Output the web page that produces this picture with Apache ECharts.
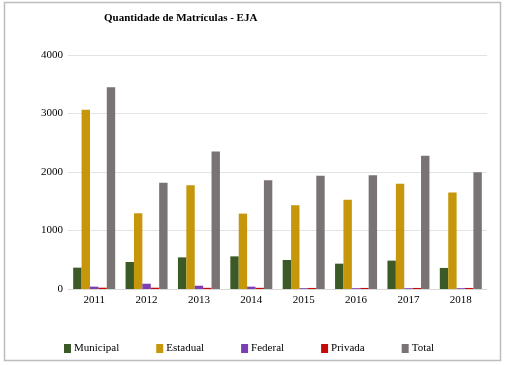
<!DOCTYPE html>
<html lang="pt" style="height: 100%">
<head>
<meta charset="utf-8">
<title>Quantidade de Matrículas - EJA</title>
</head>
<body style="height: 100%; margin: 0">
<div id="container" style="width: 506px; height: 365px"></div>

<script type="text/javascript" src="https://cdn.jsdelivr.net/npm/echarts@6/dist/echarts.min.js"></script>

<script type="text/javascript">
var years = ['2011', '2012', '2013', '2014', '2015', '2016', '2017', '2018'];
var municipal = [365, 462, 541, 558, 496, 433, 485, 360];
var estadual = [3065, 1294, 1774, 1289, 1432, 1524, 1798, 1649];
var federal = [40, 90, 56, 40, 14, 14, 14, 14];
var privada = [22, 22, 20, 20, 18, 18, 18, 18];
var total = [3448, 1815, 2351, 1860, 1935, 1945, 2277, 1997];

var dom = document.getElementById('container');
var myChart = echarts.init(dom);
var serif = '"Liberation Serif", "DejaVu Serif", serif';

function bar(name, values, color) {
    return {
        name: name,
        type: 'bar',
        barWidth: 8.4,
        barGap: '0%',
        itemStyle: { color: color },
        data: values
    };
}

var option = {
    animation: false,
    title: {
        text: 'Quantidade de Matrículas - EJA',
        left: 99,
        top: 8,
        textStyle: { fontFamily: serif, fontSize: 11, fontWeight: 'bold', color: '#000' }
    },
    graphic: [{
        type: 'rect',
        shape: { x: 4.5, y: 2.5, width: 496, height: 358 },
        style: { fill: null, stroke: '#bdbdbd', lineWidth: 1.5 },
        silent: true
    }],
    legend: {
        left: 59,
        top: 338,
        itemWidth: 7,
        itemHeight: 9,
        itemGap: 37,
        icon: 'rect',
        textStyle: { fontFamily: serif, fontSize: 11, color: '#000', padding: [0, 0, 0, -2] },
        data: ['Municipal', 'Estadual', 'Federal', 'Privada', 'Total']
    },
    grid: { left: 68, right: 19, top: 55, bottom: 76 },
    xAxis: {
        type: 'category',
        data: years,
        axisLine: { lineStyle: { color: '#d9d9d9' } },
        axisTick: { show: false },
        axisLabel: { fontFamily: serif, fontSize: 11, color: '#000', margin: 6 }
    },
    yAxis: {
        type: 'value',
        min: 0,
        max: 4000,
        interval: 1000,
        axisLine: { show: false },
        axisTick: { show: false },
        splitLine: { lineStyle: { color: '#e3e3e3' } },
        axisLabel: {
            fontFamily: serif, fontSize: 11, color: '#000', margin: 5,
            formatter: function (v) { return String(v); }
        }
    },
    series: [
        bar('Municipal', municipal, '#3b5a26'),
        bar('Estadual', estadual, '#c6960b'),
        bar('Federal', federal, '#7b3fb3'),
        bar('Privada', privada, '#c80a0a'),
        bar('Total', total, '#797373')
    ]
};

myChart.setOption(option);
window.addEventListener('resize', myChart.resize);
</script>
</body>
</html>
